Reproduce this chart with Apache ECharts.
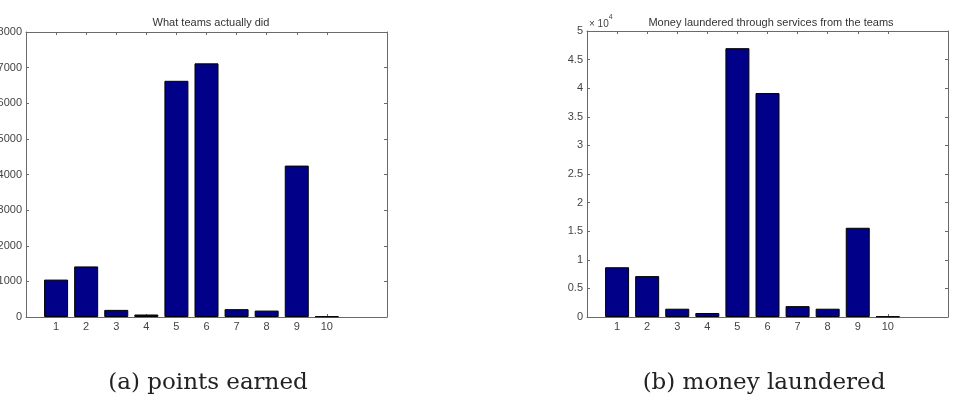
<!DOCTYPE html>
<html>
<head>
<meta charset="utf-8">
<script src="https://cdn.jsdelivr.net/npm/echarts@6/dist/echarts.min.js"></script>
<style>
  html, body { margin: 0; padding: 0; background: #fff; }
  #main { width: 956px; height: 402px; }
</style>
</head>
<body>
<div id="main"></div>
<script>
// teams 1..10, x axis goes from 0 to 12 like the matlab plot
var teams = [1, 2, 3, 4, 5, 6, 7, 8, 9, 10];
var pointsEarned = [1050, 1420, 200, 70, 6630, 7120, 220, 180, 4250, 20];
var moneyLaundered = [8700, 7150, 1450, 700, 47000, 39150, 1900, 1450, 15600, 100];
var pointsTicks = [0, 1000, 2000, 3000, 4000, 5000, 6000, 7000, 8000];
var moneyTicks = [0, 0.5, 1, 1.5, 2, 2.5, 3, 3.5, 4, 4.5, 5]; // x 10^4

var myChart = echarts.init(document.getElementById('main'));

var lineColor = '#6a6a6a';
var labelColor = '#444';
var barColor = '#000088';

function pairs(vals) {
    return teams.map(function (t, i) { return [t, vals[i]]; });
}

function xAxes(gridIndex) {
    var base = {
        type: 'value', gridIndex: gridIndex, min: 0, max: 12,
        axisLine: { onZero: false, lineStyle: { color: lineColor, width: 1 } },
        splitLine: { show: false },
        axisTick: { inside: true, length: 3, customValues: teams, lineStyle: { color: lineColor } }
    };
    var bottom = echarts.util.merge({
        position: 'bottom',
        axisLabel: { customValues: teams, color: labelColor, fontSize: 11, margin: 4, fontFamily: 'Liberation Sans' }
    }, base);
    var top = echarts.util.merge({
        position: 'top',
        axisLabel: { show: false }
    }, base);
    return [bottom, top];
}

function yAxes(gridIndex, max, interval, fmt) {
    var base = {
        type: 'value', gridIndex: gridIndex, min: 0, max: max, interval: interval,
        axisLine: { show: true, onZero: false, lineStyle: { color: lineColor, width: 1 } },
        splitLine: { show: false },
        axisTick: { show: true, inside: true, length: 3, lineStyle: { color: lineColor } }
    };
    var left = echarts.util.merge({
        position: 'left',
        axisLabel: { color: labelColor, fontSize: 11, margin: 4, fontFamily: 'Liberation Sans', formatter: fmt }
    }, base);
    var right = echarts.util.merge({
        position: 'right',
        axisLabel: { show: false }
    }, base);
    return [left, right];
}

var xs = xAxes(0).concat(xAxes(1));
var ys = yAxes(0, pointsTicks[pointsTicks.length - 1], pointsTicks[1], function (v) { return String(v); })
    .concat(yAxes(1, moneyTicks[moneyTicks.length - 1] * 10000, moneyTicks[1] * 10000,
        function (v) { return String(v / 10000); }));

var barStyle = { color: barColor, borderColor: '#000', borderWidth: 1 };

var option = {
    backgroundColor: '#fff',
    animation: false,
    title: [
        { text: 'What teams actually did', left: 206, top: 12, textAlign: 'center',
          textStyle: { fontSize: 11, fontWeight: 'normal', color: '#333', fontFamily: 'Liberation Sans' } },
        { text: 'Money laundered through services from the teams', left: 766, top: 12, textAlign: 'center',
          textStyle: { fontSize: 11, fontWeight: 'normal', color: '#333', fontFamily: 'Liberation Sans' } },
        { text: '{a|× 10}{b|4}', left: 584, top: 9,
          textStyle: { rich: {
              a: { fontSize: 10, fontWeight: 'normal', color: '#444', fontFamily: 'Liberation Sans', padding: [5, 0, 0, 0] },
              b: { fontSize: 7, fontWeight: 'normal', color: '#444', fontFamily: 'Liberation Sans', verticalAlign: 'top' }
          } } },
        { text: '(a) points earned', left: 203, top: 367, textAlign: 'center',
          textStyle: { fontSize: 23, fontWeight: 'normal', color: '#222', fontFamily: 'DejaVu Serif' } },
        { text: '(b) money laundered', left: 759, top: 367, textAlign: 'center',
          textStyle: { fontSize: 23, fontWeight: 'normal', color: '#222', fontFamily: 'DejaVu Serif' } }
    ],
    grid: [
        { left: 26, right: 569, top: 32, bottom: 85, containLabel: false, outerBoundsMode: 'none' },
        { left: 587, right: 8, top: 31, bottom: 85, containLabel: false, outerBoundsMode: 'none' }
    ],
    xAxis: xs,
    yAxis: ys,
    series: [
        { name: 'points', type: 'bar', xAxisIndex: 0, yAxisIndex: 0, barWidth: 24,
          data: pairs(pointsEarned), itemStyle: barStyle },
        { name: 'money', type: 'bar', xAxisIndex: 2, yAxisIndex: 2, barWidth: 24,
          data: pairs(moneyLaundered), itemStyle: barStyle }
    ]
};

myChart.setOption(option);
</script>
</body>
</html>
